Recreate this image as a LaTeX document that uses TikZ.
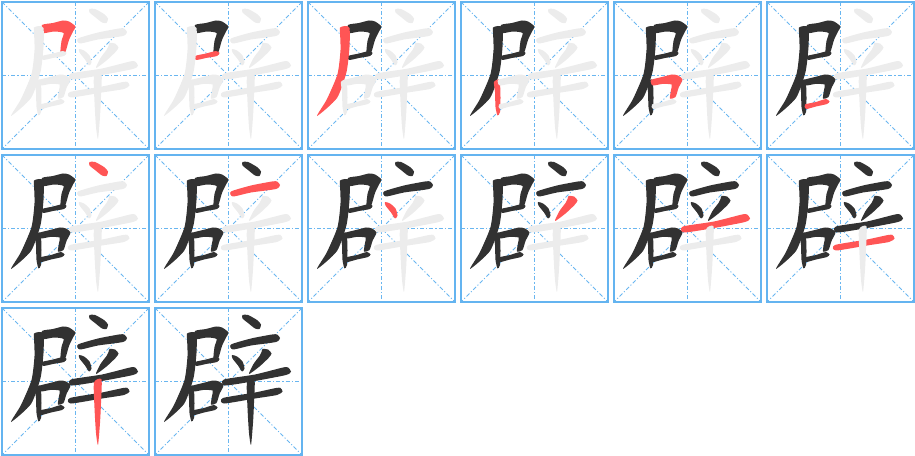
\documentclass[tikz,border=0pt]{standalone}
\usepackage{tikz}

\definecolor{cellblue}{RGB}{100,180,240}
\definecolor{guideblue}{RGB}{105,182,240}
\definecolor{inkdone}{RGB}{50,50,50}
\definecolor{inknow}{RGB}{255,85,85}
\definecolor{inkrest}{RGB}{236,236,236}

\tikzset{
  cellbox/.style={draw=cellblue,line width=1.5pt},
  guide/.style={draw=guideblue,line width=0.75pt,dash pattern=on 3pt off 1.6pt on 0.8pt off 1.6pt},
  strokedone/.style={fill=inkdone},
  strokenow/.style={fill=inknow},
  strokerest/.style={fill=inkrest},
}

% strokes of the character, in cell pixels (y down)
\expandafter\def\csname pistroke1\endcsname{plot[smooth cycle,tension=0.4] coordinates {(40,23) (51,21) (61,18.5) (67,19.5) (73.5,24.5) (71,29.5) (67,38) (63,51) (58.5,50.5) (59.5,39) (61.5,31) (52,29.5) (41,31)}}
\expandafter\def\csname pistroke2\endcsname{plot[smooth cycle,tension=0.4] coordinates {(40,54) (51,51.5) (61,49) (64.5,51) (62,54) (51,56) (41,58)}}
\expandafter\def\csname pistroke3\endcsname{plot[smooth cycle,tension=0.4] coordinates {(32,25.5) (37,24) (41.5,26) (41.5,45) (38.5,70) (29,96) (9,114) (19,97) (29.5,72) (32.5,48) (32,30)}}
\expandafter\def\csname pistroke4\endcsname{plot[smooth cycle,tension=0.4] coordinates {(33,80) (38.5,78) (39.5,95) (39,110) (36.5,113.5) (34.5,105) (34,90)}}
\expandafter\def\csname pistroke5\endcsname{plot[smooth cycle,tension=0.4] coordinates {(37,78) (48,75) (58,72.5) (64,73.5) (68.5,77.5) (64.5,86) (61.5,95) (56,96.5) (57,88) (57.5,82.5) (48,82) (38.5,83.5)}}
\expandafter\def\csname pistroke6\endcsname{plot[smooth cycle,tension=0.4] coordinates {(38,102.5) (49,100) (59,97) (62.5,99.5) (60,102) (49,104.5) (39,107)}}
\expandafter\def\csname pistroke7\endcsname{plot[smooth cycle,tension=0.4] coordinates {(87.5,7) (93,7) (102,12) (106,16.5) (104.5,21) (100,20.5) (93,15) (87.5,10.5)}}
\expandafter\def\csname pistroke8\endcsname{plot[smooth cycle,tension=0.4] coordinates {(76,36.5) (96,30.5) (117,26.5) (122,26.5) (125,30) (121,34) (96,37.5) (78,41.5)}}
\expandafter\def\csname pistroke9\endcsname{plot[smooth cycle,tension=0.4] coordinates {(77,47) (82,48.5) (87.5,53.5) (89.5,60.5) (87,63.5) (83,57.5) (77.5,50.5)}}
\expandafter\def\csname pistroke10\endcsname{plot[smooth cycle,tension=0.4] coordinates {(107.5,41) (113,41.5) (116.5,45.5) (113.5,50) (104.5,58.5) (94,66) (98.5,56) (104.5,48) (106.5,44)}}
\expandafter\def\csname pistroke11\endcsname{plot[smooth cycle,tension=0.4] coordinates {(69,71.5) (100,66.5) (128,59.5) (133,59.5) (136,63.5) (131,67) (100,73) (70,77.5)}}
\expandafter\def\csname pistroke12\endcsname{plot[smooth cycle,tension=0.4] coordinates {(68,90) (100,84.5) (121,80) (125.5,80) (127.5,83.5) (122,87) (100,90.5) (69,95.5)}}
\expandafter\def\csname pistroke13\endcsname{plot[smooth cycle,tension=0.4] coordinates {(92,74.5) (99.5,71.5) (99,95) (98,115) (96,137) (94,125) (92.5,100)}}

\begin{document}
\begin{tikzpicture}[x=0.75pt,y=0.75pt,yscale=-1,xscale=1]
\useasboundingbox (0,0) rectangle (915,456);

\foreach \k in {1,...,14}{
  \pgfmathtruncatemacro\col{mod(\k-1,6)}
  \pgfmathtruncatemacro\row{(\k-1)/6}
  \begin{scope}[shift={(2+153*\col,2+153*\row)}]
    %Guides
    \draw[guide] (0,0) -- (147,147) (147,0) -- (0,147);
    \draw[guide] (73.5,0) -- (73.5,147) (0,73.5) -- (147,73.5);
    %Strokes
    \foreach \s in {1,...,13}{
      \ifnum\s<\k \def\inkstyle{strokedone}\else
        \ifnum\s=\k \def\inkstyle{strokenow}\else \def\inkstyle{strokerest}\fi\fi
      \expandafter\let\expandafter\thisstroke\csname pistroke\s\endcsname
      \fill[\inkstyle] \thisstroke;
    }
    %Border
    \draw[cellbox] (0,0) rectangle (147,147);
  \end{scope}
}

\end{tikzpicture}
\end{document}
